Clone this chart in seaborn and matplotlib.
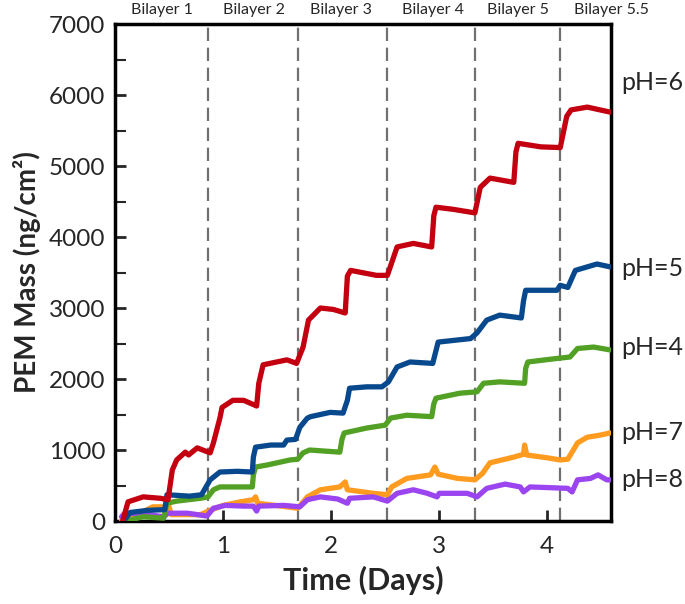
import matplotlib
matplotlib.use('Agg')
import matplotlib.pyplot as plt
import matplotlib.transforms as mtransforms
from matplotlib.ticker import MultipleLocator
import numpy as np
import pandas as pd
import seaborn as sns

# values (time in days, mass in ng/cm2)
red_t = [0.07, 0.12, 0.26, 0.42, 0.49, 0.53, 0.57, 0.65, 0.68, 0.76, 0.88, 0.91, 0.97, 0.99, 1.09, 1.19,
         1.31, 1.33, 1.37, 1.59, 1.68, 1.74, 1.79, 1.90, 2.02, 2.13, 2.15, 2.18, 2.42, 2.52, 2.61, 2.76,
         2.93, 2.95, 2.97, 3.13, 3.33, 3.38, 3.47, 3.69, 3.71, 3.73, 3.94, 4.12, 4.18, 4.22, 4.37, 4.58]
red_v = [0, 270, 340, 320, 300, 720, 860, 970, 930, 1030, 960, 1100, 1450, 1600, 1700, 1700,
         1620, 1940, 2200, 2270, 2220, 2450, 2830, 3000, 2980, 2930, 3450, 3530, 3460, 3460, 3860, 3910,
         3860, 4300, 4420, 4390, 4340, 4700, 4830, 4770, 5200, 5320, 5270, 5260, 5700, 5790, 5830, 5760]

blue_t = [0.08, 0.14, 0.30, 0.46, 0.48, 0.69, 0.80, 0.88, 0.97, 1.13, 1.27, 1.28, 1.30, 1.44, 1.56,
          1.59, 1.67, 1.71, 1.78, 1.81, 1.99, 2.11, 2.15, 2.17, 2.33, 2.47, 2.53, 2.61, 2.73, 2.94,
          2.97, 2.99, 3.29, 3.35, 3.44, 3.56, 3.76, 3.78, 3.80, 4.09, 4.12, 4.19, 4.26, 4.46, 4.58]
blue_v = [0, 120, 150, 160, 370, 350, 370, 580, 690, 700, 690, 900, 1040, 1070, 1070,
          1140, 1150, 1320, 1450, 1470, 1530, 1520, 1700, 1870, 1890, 1890, 1960, 2170, 2240, 2220,
          2400, 2520, 2570, 2650, 2830, 2900, 2860, 3100, 3250, 3250, 3320, 3290, 3530, 3620, 3580]

green_t = [0.10, 0.26, 0.45, 0.48, 0.57, 0.79, 0.86, 0.91, 0.97, 1.27, 1.28, 1.30, 1.41, 1.62, 1.69,
           1.74, 1.80, 2.08, 2.10, 2.12, 2.33, 2.50, 2.55, 2.70, 2.93, 2.95, 2.97, 3.19, 3.35, 3.41,
           3.56, 3.79, 3.80, 3.82, 4.09, 4.21, 4.28, 4.43, 4.58]
green_v = [0, 60, 40, 250, 280, 320, 340, 440, 480, 480, 650, 760, 790, 860, 870,
           960, 1000, 970, 1150, 1240, 1310, 1350, 1450, 1490, 1470, 1650, 1730, 1800, 1820, 1940,
           1960, 1940, 2150, 2240, 2290, 2310, 2430, 2450, 2410]

orange_t = [0.06, 0.23, 0.35, 0.45, 0.49, 0.52, 0.79, 0.88, 1.00, 1.16, 1.28, 1.30, 1.32, 1.59,
            1.69, 1.78, 1.90, 2.08, 2.13, 2.15, 2.39, 2.52, 2.56, 2.70, 2.92, 2.96, 2.99, 3.17,
            3.33, 3.40, 3.47, 3.69, 3.78, 3.79, 3.81, 4.00, 4.12, 4.19, 4.28, 4.37, 4.49, 4.58]
orange_v = [0, 110, 200, 200, 250, 90, 90, 150, 220, 270, 300, 340, 250, 200,
            180, 340, 440, 480, 550, 440, 390, 370, 480, 600, 650, 760, 660, 600,
            580, 670, 820, 900, 940, 1070, 930, 890, 860, 870, 1100, 1180, 1210, 1240]

purple_t = [0.06, 0.09, 0.26, 0.45, 0.49, 0.67, 0.85, 0.91, 1.02, 1.19, 1.28, 1.31, 1.33, 1.56,
            1.71, 1.78, 1.90, 2.06, 2.15, 2.17, 2.39, 2.52, 2.61, 2.76, 2.89, 2.98, 3.00, 3.26,
            3.35, 3.44, 3.61, 3.75, 3.78, 3.84, 4.19, 4.23, 4.28, 4.40, 4.47, 4.55, 4.58]
purple_v = [60, 110, 100, 60, 110, 110, 70, 180, 220, 210, 210, 140, 210, 220,
            200, 300, 340, 310, 250, 320, 340, 280, 390, 440, 390, 340, 390, 390,
            340, 460, 520, 480, 410, 480, 460, 410, 580, 600, 650, 580, 580]

series_names = ['pH=7', 'pH=8', 'pH=4', 'pH=5', 'pH=6']
series_t = [orange_t, purple_t, green_t, blue_t, red_t]
series_v = [orange_v, purple_v, green_v, blue_v, red_v]
colors = ['#ff9b1f', '#9b45f0', '#52a125', '#08488c', '#c40010']

bilayer_bounds = [0.86, 1.69, 2.52, 3.33, 4.12]
bilayer_labels = ['Bilayer 1', 'Bilayer 2', 'Bilayer 3', 'Bilayer 4', 'Bilayer 5', 'Bilayer 5.5']
bilayer_label_x = [0.43, 1.29, 2.09, 2.94, 3.73, 4.59]

ph_label_names = ['pH=6', 'pH=5', 'pH=4', 'pH=7', 'pH=8']
ph_label_y = [6170, 3560, 2440, 1250, 580]

df = pd.concat([pd.DataFrame({'Time': t, 'Mass': v, 'pH': n})
                for n, t, v in zip(series_names, series_t, series_v)], ignore_index=True)

sns.set_style('white')
plt.rcParams['font.family'] = ['Lato', 'DejaVu Sans']

fig = plt.figure(figsize=(6.85, 6.04), dpi=100)
ax = fig.add_axes([0.168, 0.1374, 0.724, 0.8228])

for b in bilayer_bounds:
    ax.axvline(b, color='#707070', lw=1.6, dashes=(6, 3), zorder=1)

sns.lineplot(data=df, x='Time', y='Mass', hue='pH', hue_order=series_names,
             palette=colors, estimator=None, sort=False, lw=3.8, legend=False, ax=ax, zorder=3)

ax.set_xlim(0, 4.59)
ax.set_ylim(0, 7000)
ax.xaxis.set_major_locator(MultipleLocator(1))
ax.yaxis.set_major_locator(MultipleLocator(1000))
ax.yaxis.set_minor_locator(MultipleLocator(500))
ax.tick_params(axis='both', which='major', direction='in', length=8, width=2,
               labelsize=17.5, pad=7, left=True, bottom=True)
ax.tick_params(axis='x', which='major', pad=11)
ax.tick_params(axis='y', which='minor', direction='in', length=8, width=1.5, left=True)
for s in ax.spines.values():
    s.set_linewidth(2.5)
    s.set_color('black')

ax.set_xlabel('Time (Days)', fontsize=22, fontweight='bold', labelpad=6)
ax.set_ylabel('PEM Mass (ng/cm²)', fontsize=20, fontweight='bold', labelpad=6)

trans = mtransforms.blended_transform_factory(ax.transData, ax.transAxes)
for x, lab in zip(bilayer_label_x, bilayer_labels):
    ax.text(x, 1.028, lab, transform=trans, ha='center', va='center', fontsize=11.5)

for lab, y in zip(ph_label_names, ph_label_y):
    ax.text(1.02, y, lab, transform=mtransforms.blended_transform_factory(ax.transAxes, ax.transData),
            ha='left', va='center', fontsize=18)

fig.savefig('out.png', dpi=100)
